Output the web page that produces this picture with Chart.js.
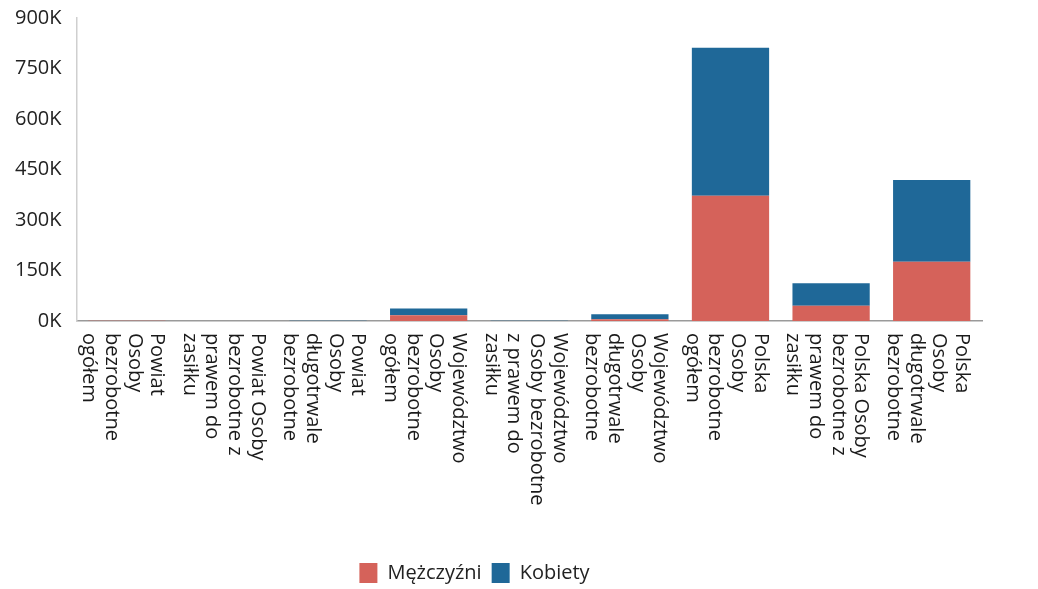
<!DOCTYPE html>
<html>
<head>
<meta charset="utf-8">
<script src="https://cdn.jsdelivr.net/npm/chart.js@4.4.1/dist/chart.umd.min.js"></script>
<style>
  html, body { margin: 0; padding: 0; background: #fff; }
  #wrap { width: 1038px; height: 589px; }
</style>
</head>
<body>
<div id="wrap"><canvas id="bars"></canvas></div>
<script>
var categories = [
  ["Powiat", "Osoby", "bezrobotne", "ogółem"],
  ["Powiat Osoby", "bezrobotne z", "prawem do", "zasiłku"],
  ["Powiat", "Osoby", "długotrwale", "bezrobotne"],
  ["Województwo", "Osoby", "bezrobotne", "ogółem"],
  ["Województwo", "Osoby bezrobotne", "z prawem do", "zasiłku"],
  ["Województwo", "Osoby", "długotrwale", "bezrobotne"],
  ["Polska", "Osoby", "bezrobotne", "ogółem"],
  ["Polska Osoby", "bezrobotne z", "prawem do", "zasiłku"],
  ["Polska", "Osoby", "długotrwale", "bezrobotne"]
];
var mezczyzni = [400, 100, 200, 17000, 300, 5000, 372000, 45000, 176000];
var kobiety   = [500, 150, 250, 20000, 400, 15000, 440000, 67000, 243000];
var yTicks = [0, 150000, 300000, 450000, 600000, 750000, 900000];

var FONT = '"Open Sans", "Noto Sans", sans-serif';

// x labels in the original run top-to-bottom (rotated clockwise), which
// Chart.js can't do natively, so the real ticks only reserve the space
var clockwiseLabels = {
  id: 'clockwiseLabels',
  afterLayout: function(chart) {
    // legend sits a bit left of centre and a bit lower in the original
    var lg = chart.legend;
    lg.right -= 33;
    lg.top += 4;
    lg.bottom += 4;
  },
  afterDraw: function(chart) {
    var scale = chart.scales.x;
    var ctx = chart.ctx;
    var lh = 22.7;
    ctx.save();
    ctx.font = '20px ' + FONT;
    ctx.fillStyle = '#1a1a1a';
    ctx.textAlign = 'left';
    ctx.textBaseline = 'middle';
    scale.ticks.forEach(function(t, i) {
      var lines = chart.data.labels[i];
      var cx = scale.getPixelForTick(i) - 4;
      var n = lines.length;
      lines.forEach(function(line, j) {
        var x = cx + ((n - 1) / 2 - j) * lh;
        ctx.save();
        ctx.translate(x, scale.top + 12);
        ctx.rotate(Math.PI / 2);
        ctx.fillText(line, 0, 0);
        ctx.restore();
      });
    });
    ctx.restore();
  }
};

var ctx1 = document.getElementById("bars");
var myChart1 = new Chart(ctx1, {
  type: 'bar',
  data: {
    labels: categories,
    datasets: [{
      label: 'Mężczyźni',
      data: mezczyzni,
      backgroundColor: '#d5625a'
    }, {
      label: 'Kobiety',
      data: kobiety,
      backgroundColor: '#1f6898'
    }]
  },
  options: {
    responsive: true,
    maintainAspectRatio: false,
    animation: false,
    categoryPercentage: 0.8,
    barPercentage: 0.96,
    layout: { padding: { top: 0, right: 56, left: 0, bottom: 0 } },
    plugins: {
      tooltip: { enabled: false },
      legend: {
        position: 'bottom',
        labels: {
          boxWidth: 18,
          boxHeight: 20,
          padding: 10,
          color: '#222',
          font: { family: FONT, size: 20 }
        }
      }
    },
    scales: {
      x: {
        stacked: true,
        grid: { display: false, drawTicks: false },
        border: { color: '#9a9a9a', width: 1.5 },
        ticks: {
          minRotation: 90,
          maxRotation: 90,
          autoSkip: false,
          padding: 12,
          color: 'rgba(0,0,0,0)',
          font: { family: FONT, size: 8 }
        },
        afterFit: function(scale) { scale.height = 228; }
      },
      y: {
        stacked: true,
        min: 0,
        max: 900000,
        grid: { display: false, drawTicks: false },
        border: { color: '#cfcfcf', width: 1.5 },
        afterBuildTicks: function(scale) {
          scale.ticks = yTicks.map(function(v) { return { value: v }; });
        },
        afterFit: function(scale) { scale.paddingTop = 18; },
        ticks: {
          padding: 15,
          color: '#222',
          font: { family: FONT, size: 20 },
          callback: function(v) { return (v / 1000) + 'K'; }
        }
      }
    }
  },
  plugins: [clockwiseLabels]
});
</script>
</body>
</html>
